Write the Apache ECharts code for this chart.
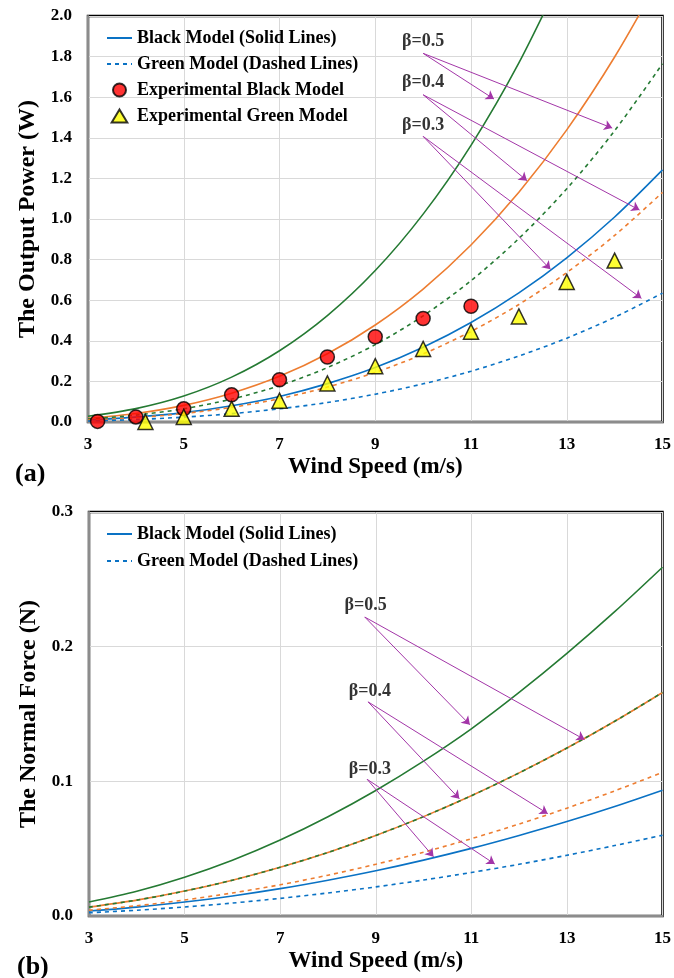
<!DOCTYPE html>
<html>
<head>
<meta charset="utf-8">
<script src="https://cdn.jsdelivr.net/npm/echarts@6/dist/echarts.min.js"></script>
<style>
  html, body { margin: 0; padding: 0; background: #fff; }
  #main { width: 674px; height: 978px; }
</style>
</head>
<body>
<div id="main"></div>
<script>
// wind speed (m/s) where the model curves were read
const speeds = [3, 4, 5, 6, 7, 8, 9, 10, 11, 12, 13, 14, 15];

// (a) output power (W)
const powerBlack05 = [0.028, 0.066, 0.128, 0.221, 0.351, 0.524, 0.746, 1.024, 1.363, 1.769, 2.25];
const powerBlack04 = [0.018, 0.042, 0.082, 0.142, 0.225, 0.336, 0.478, 0.655, 0.872, 1.132, 1.439, 1.798, 2.211];
const powerBlack03 = [0.010, 0.024, 0.046, 0.080, 0.126, 0.189, 0.268, 0.368, 0.490, 0.636, 0.809, 1.010, 1.242];
const powerGreen05 = [0.014, 0.034, 0.065, 0.113, 0.179, 0.268, 0.381, 0.523, 0.696, 0.904, 1.149, 1.435, 1.765];
const powerGreen04 = [0.009, 0.021, 0.042, 0.072, 0.115, 0.172, 0.244, 0.335, 0.446, 0.579, 0.736, 0.919, 1.131];
const powerGreen03 = [0.005, 0.012, 0.024, 0.041, 0.065, 0.096, 0.137, 0.188, 0.250, 0.325, 0.413, 0.516, 0.635];

const expBlackX = [3.2, 4, 5, 6, 7, 8, 9, 10, 11];
const expBlackY = [0.003, 0.025, 0.065, 0.134, 0.208, 0.32, 0.42, 0.51, 0.57];
const expGreenX = [4.2, 5, 6, 7, 8, 9, 10, 11, 12, 13, 14];
const expGreenY = [0.0, 0.025, 0.065, 0.105, 0.19, 0.275, 0.36, 0.445, 0.52, 0.69, 0.795];

// (b) normal force (N)
const forceBlack05 = [0.0104, 0.0184, 0.0288, 0.0414, 0.0564, 0.0737, 0.0932, 0.115, 0.139, 0.166, 0.195, 0.226, 0.259];
const forceBlack04 = [0.0066, 0.0118, 0.0185, 0.0266, 0.0362, 0.0472, 0.0598, 0.0738, 0.0893, 0.1063, 0.1247, 0.1446, 0.166];
const forceBlack03 = [0.0037, 0.0066, 0.0104, 0.0149, 0.0203, 0.0266, 0.0336, 0.0415, 0.0502, 0.0598, 0.0701, 0.0813, 0.0934];
const forceGreen05 = [0.0066, 0.0118, 0.0185, 0.0266, 0.0362, 0.0472, 0.0598, 0.0738, 0.0893, 0.1063, 0.1247, 0.1446, 0.166];
const forceGreen04 = [0.0043, 0.0076, 0.0119, 0.0171, 0.0232, 0.0303, 0.0384, 0.0474, 0.0574, 0.0683, 0.0801, 0.0929, 0.1067];
const forceGreen03 = [0.0024, 0.0043, 0.0067, 0.0096, 0.0131, 0.0171, 0.0216, 0.0267, 0.0323, 0.0384, 0.0451, 0.0523, 0.060];

// beta annotations (data coords)
const betaNames = ['β=0.5', 'β=0.4', 'β=0.3'];
const topLabelPos = [[10.0, 1.877], [10.0, 1.675], [10.0, 1.463]];
const topArrowStart = [[10.0, 1.816], [10.0, 1.612], [10.0, 1.407]];
const topArrowEnds = [[[11.48, 1.591], [13.95, 1.448]], [[12.17, 1.189], [14.52, 1.044]], [[12.66, 0.752], [14.56, 0.609]]];
const botLabelPos = [[8.79, 0.231], [8.875, 0.167], [8.875, 0.109]];
const botArrowStart = [[8.77, 0.222], [8.84, 0.159], [8.82, 0.1015]];
const botArrowEnds = [[[10.97, 0.142], [13.37, 0.131]], [[10.75, 0.087], [12.60, 0.076]], [[10.21, 0.044], [11.49, 0.0386]]];

const legendNames = ['Black Model (Solid Lines)', 'Green Model (Dashed Lines)', 'Experimental Black Model', 'Experimental Green Model'];

const FONT = '"Liberation Serif", "Times New Roman", serif';
const GREEN = '#257A33', ORANGE = '#ED7D31', BLUE = '#0A72C4', PURPLE = '#A336A8';

function pairs(xs, ys) {
  return ys.map((y, i) => [xs[i], y]);
}

function curve(name, data, color, dashed, gi) {
  return {
    name: name, type: 'line', xAxisIndex: gi, yAxisIndex: gi,
    data: pairs(speeds, data), smooth: 0.3, showSymbol: false, symbol: 'none',
    lineStyle: { color: color, width: 1.6, type: dashed ? [4, 4] : 'solid' },
    silent: true, z: 3
  };
}

function arrows(starts, ends, gi) {
  const d = [];
  starts.forEach((s, i) => ends[i].forEach(e => d.push({ coords: [s, e] })));
  return {
    type: 'lines', coordinateSystem: 'cartesian2d', xAxisIndex: gi, yAxisIndex: gi,
    data: d, symbol: ['none', 'arrow'], symbolSize: 8,
    lineStyle: { color: PURPLE, width: 1, opacity: 1, curveness: 0 }, z: 6, silent: true
  };
}

function betaLabels(pos, gi) {
  return {
    type: 'scatter', xAxisIndex: gi, yAxisIndex: gi, symbolSize: 0,
    data: pos.map((p, i) => ({ value: p, name: betaNames[i] })),
    label: { show: true, position: 'inside', formatter: '{b}', color: '#000',
      fontFamily: FONT, fontWeight: 'bold', fontSize: 18 },
    itemStyle: { color: 'rgba(0,0,0,0)' }, silent: true, z: 7
  };
}

function legendDummy(name, dashed, gi) {
  return {
    name: name, type: 'line', xAxisIndex: gi, yAxisIndex: gi, data: [], symbol: 'none',
    itemStyle: { color: BLUE },
    lineStyle: { color: BLUE, width: 1.6, type: dashed ? [4, 4] : 'solid' }
  };
}

function xAxisCfg(gi) {
  return {
    type: 'value', gridIndex: gi, min: 3, max: 15, interval: 2,
    name: 'Wind Speed (m/s)', nameLocation: 'middle', nameGap: 34,
    nameTextStyle: { fontFamily: FONT, fontWeight: 'bold', fontSize: 23, color: '#000' },
    axisLine: { show: true, onZero: false, lineStyle: { color: '#8C8C8C', width: 2 } },
    axisTick: { show: false },
    axisLabel: { fontFamily: FONT, fontWeight: 'bold', fontSize: 17, color: '#000', margin: 14 },
    splitLine: { show: true, lineStyle: { color: '#D9D9D9', width: 1 } }
  };
}

function yAxisCfg(gi, max, interval, name) {
  return {
    type: 'value', gridIndex: gi, min: 0, max: max, interval: interval,
    name: name, nameLocation: 'middle', nameGap: 43,
    nameTextStyle: { fontFamily: FONT, fontWeight: 'bold', fontSize: 24, color: '#000' },
    axisLine: { show: true, lineStyle: { color: '#8C8C8C', width: 2 } },
    axisTick: { show: false },
    axisLabel: { fontFamily: FONT, fontWeight: 'bold', fontSize: 17, color: '#000', margin: 16,
      formatter: v => v.toFixed(1) },
    splitLine: { show: true, lineStyle: { color: '#D9D9D9', width: 1 } }
  };
}

const legendText = { fontFamily: FONT, fontWeight: 'bold', fontSize: 18, color: '#000' };
const lineLegendItem = n => ({ name: n, itemStyle: { opacity: 0 } });

const chart = echarts.init(document.getElementById('main'));
chart.setOption({
  animation: false,
  backgroundColor: '#fff',
  title: [
    { text: '(a)', left: 10, top: 456, textStyle: { fontFamily: FONT, fontWeight: 'bold', fontSize: 26, color: '#000' } },
    { text: '(b)', left: 12, top: 949, textStyle: { fontFamily: FONT, fontWeight: 'bold', fontSize: 26, color: '#000' } }
  ],
  legend: [
    { orient: 'vertical', left: 101, top: 24, itemWidth: 25, itemHeight: 13, itemGap: 8, symbolKeepAspect: true,
      data: [
        lineLegendItem(legendNames[0]), lineLegendItem(legendNames[1]),
        { name: legendNames[2], icon: 'path://M6,0A6,6 0 1,1 5.99,0Z' },
        { name: legendNames[3], icon: 'path://M6,0L12,10L0,10Z' }
      ],
      textStyle: legendText, selectedMode: false },
    { orient: 'vertical', left: 101, top: 520, itemWidth: 25, itemHeight: 13, itemGap: 9,
      data: [lineLegendItem(legendNames[0]), lineLegendItem(legendNames[1])],
      textStyle: legendText, selectedMode: false }
  ],
  grid: [
    { left: 88, top: 16, width: 580, height: 406, show: true, borderColor: '#000', borderWidth: 2.5 },
    { left: 89, top: 512, width: 576, height: 404, show: true, borderColor: '#000', borderWidth: 2.5 }
  ],
  xAxis: [xAxisCfg(0), xAxisCfg(1)],
  yAxis: [
    yAxisCfg(0, 2.0, 0.2, 'The Output Power (W)'),
    yAxisCfg(1, 0.3, 0.1, 'The Normal Force (N)')
  ],
  series: [
    legendDummy(legendNames[0], false, 0),
    legendDummy(legendNames[1], true, 0),
    curve('P black 0.5', powerBlack05, GREEN, false, 0),
    curve('P black 0.4', powerBlack04, ORANGE, false, 0),
    curve('P black 0.3', powerBlack03, BLUE, false, 0),
    curve('P green 0.5', powerGreen05, GREEN, true, 0),
    curve('P green 0.4', powerGreen04, ORANGE, true, 0),
    curve('P green 0.3', powerGreen03, BLUE, true, 0),
    {
      name: legendNames[2], type: 'scatter', xAxisIndex: 0, yAxisIndex: 0,
      data: pairs(expBlackX, expBlackY), symbol: 'circle', symbolSize: 14,
      itemStyle: { color: '#FF0000', borderColor: '#000', borderWidth: 1.5 }, z: 5
    },
    {
      name: legendNames[3], type: 'scatter', xAxisIndex: 0, yAxisIndex: 0,
      data: pairs(expGreenX, expGreenY), symbol: 'triangle', symbolSize: 15,
      itemStyle: { color: '#FFFF00', borderColor: '#000', borderWidth: 1.5 }, z: 5
    },
    arrows(topArrowStart, topArrowEnds, 0),
    betaLabels(topLabelPos, 0),

    curve('F black 0.5', forceBlack05, GREEN, false, 1),
    curve('F black 0.4', forceBlack04, ORANGE, false, 1),
    curve('F black 0.3', forceBlack03, BLUE, false, 1),
    curve('F green 0.5', forceGreen05, GREEN, true, 1),
    curve('F green 0.4', forceGreen04, ORANGE, true, 1),
    curve('F green 0.3', forceGreen03, BLUE, true, 1),
    arrows(botArrowStart, botArrowEnds, 1),
    betaLabels(botLabelPos, 1)
  ]
});
</script>
</body>
</html>
